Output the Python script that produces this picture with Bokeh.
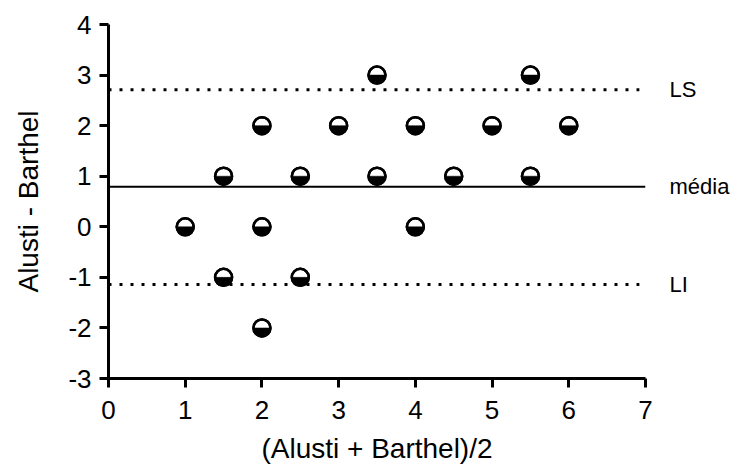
import math
from bokeh.plotting import figure
from bokeh.models import Range1d, FixedTicker, LinearAxis
from bokeh.embed import file_html
from bokeh.resources import INLINE

# Data (Bland-Altman: mean vs difference)
mean_vals = [3.5, 5.5, 2, 3, 4, 5, 6, 1.5, 2.5, 3.5, 4.5, 5.5, 1, 2, 4, 1.5, 2.5, 2]
diff_vals = [3, 3, 2, 2, 2, 2, 2, 1, 1, 1, 1, 1, 0, 0, 0, -1, -1, -2]
bias = 0.79
upper_loa = 2.71
lower_loa = -1.14
ref_labels = ["LS", "média", "LI"]
x_ticks = [0, 1, 2, 3, 4, 5, 6, 7]
y_ticks = [-3, -2, -1, 0, 1, 2, 3, 4]

FONT = "Liberation Sans"

p = figure(width=743, height=469, output_backend="svg", toolbar_location=None,
           x_range=Range1d(0, 7), y_range=Range1d(-3, 4),
           min_border_left=108, min_border_right=98, min_border_top=24, min_border_bottom=91)
p.outline_line_color = None
p.xgrid.grid_line_color = None
p.ygrid.grid_line_color = None
p.background_fill_color = "white"
p.border_fill_color = "white"

for ax, ticks in ((p.xaxis[0], x_ticks), (p.yaxis[0], y_ticks)):
    ax.ticker = FixedTicker(ticks=ticks)
    ax.major_label_overrides = {t: str(t) for t in ticks}
    ax.axis_line_width = 3
    ax.major_tick_line_width = 3
    ax.major_tick_out = 9
    ax.major_tick_in = 0
    ax.minor_tick_line_color = None
    ax.major_label_text_font = FONT
    ax.major_label_text_font_size = "26px"
    ax.major_label_text_color = "black"
    ax.axis_label_text_font = FONT
    ax.axis_label_text_font_size = "28px"
    ax.axis_label_text_font_style = "normal"
    ax.axis_label_text_color = "black"
    ax.axis_line_color = "black"
    ax.major_tick_line_color = "black"

p.xaxis.axis_label = "(Alusti + Barthel)/2"
p.yaxis.axis_label = "Alusti - Barthel"
p.xaxis.major_label_standoff = 13
p.yaxis.major_label_standoff = 8
p.xaxis.axis_label_standoff = 11
p.yaxis.axis_label_standoff = 21

# right-side labels for reference lines
rax = LinearAxis(ticker=FixedTicker(ticks=[upper_loa, bias, lower_loa]),
                 major_label_overrides={upper_loa: ref_labels[0], bias: ref_labels[1], lower_loa: ref_labels[2]})
rax.axis_line_color = None
rax.major_tick_line_color = None
rax.minor_tick_line_color = None
rax.major_label_standoff = 18
rax.major_label_text_font = FONT
rax.major_label_text_font_size = "22px"
rax.major_label_text_color = "black"
p.add_layout(rax, "right")

# reference lines
p.line([0, 7], [bias, bias], line_color="black", line_width=2)
p.line([0, 6.92], [upper_loa, upper_loa], line_color="black", line_width=3, line_dash="3 8")
p.line([0, 6.92], [lower_loa, lower_loa], line_color="black", line_width=3, line_dash="3 8")

# markers: white circle, bottom half black
p.scatter(mean_vals, diff_vals, size=17, fill_color="white", line_color="black", line_width=2.5)
p.wedge(mean_vals, diff_vals, radius=8, radius_units="screen",
        start_angle=math.pi, end_angle=2 * math.pi, direction="anticlock",
        fill_color="black", line_color="black", line_width=0.5)
p.scatter(mean_vals, diff_vals, size=17, fill_color=None, line_color="black", line_width=2.5)

open("out.html", "w").write(file_html(p, INLINE))
